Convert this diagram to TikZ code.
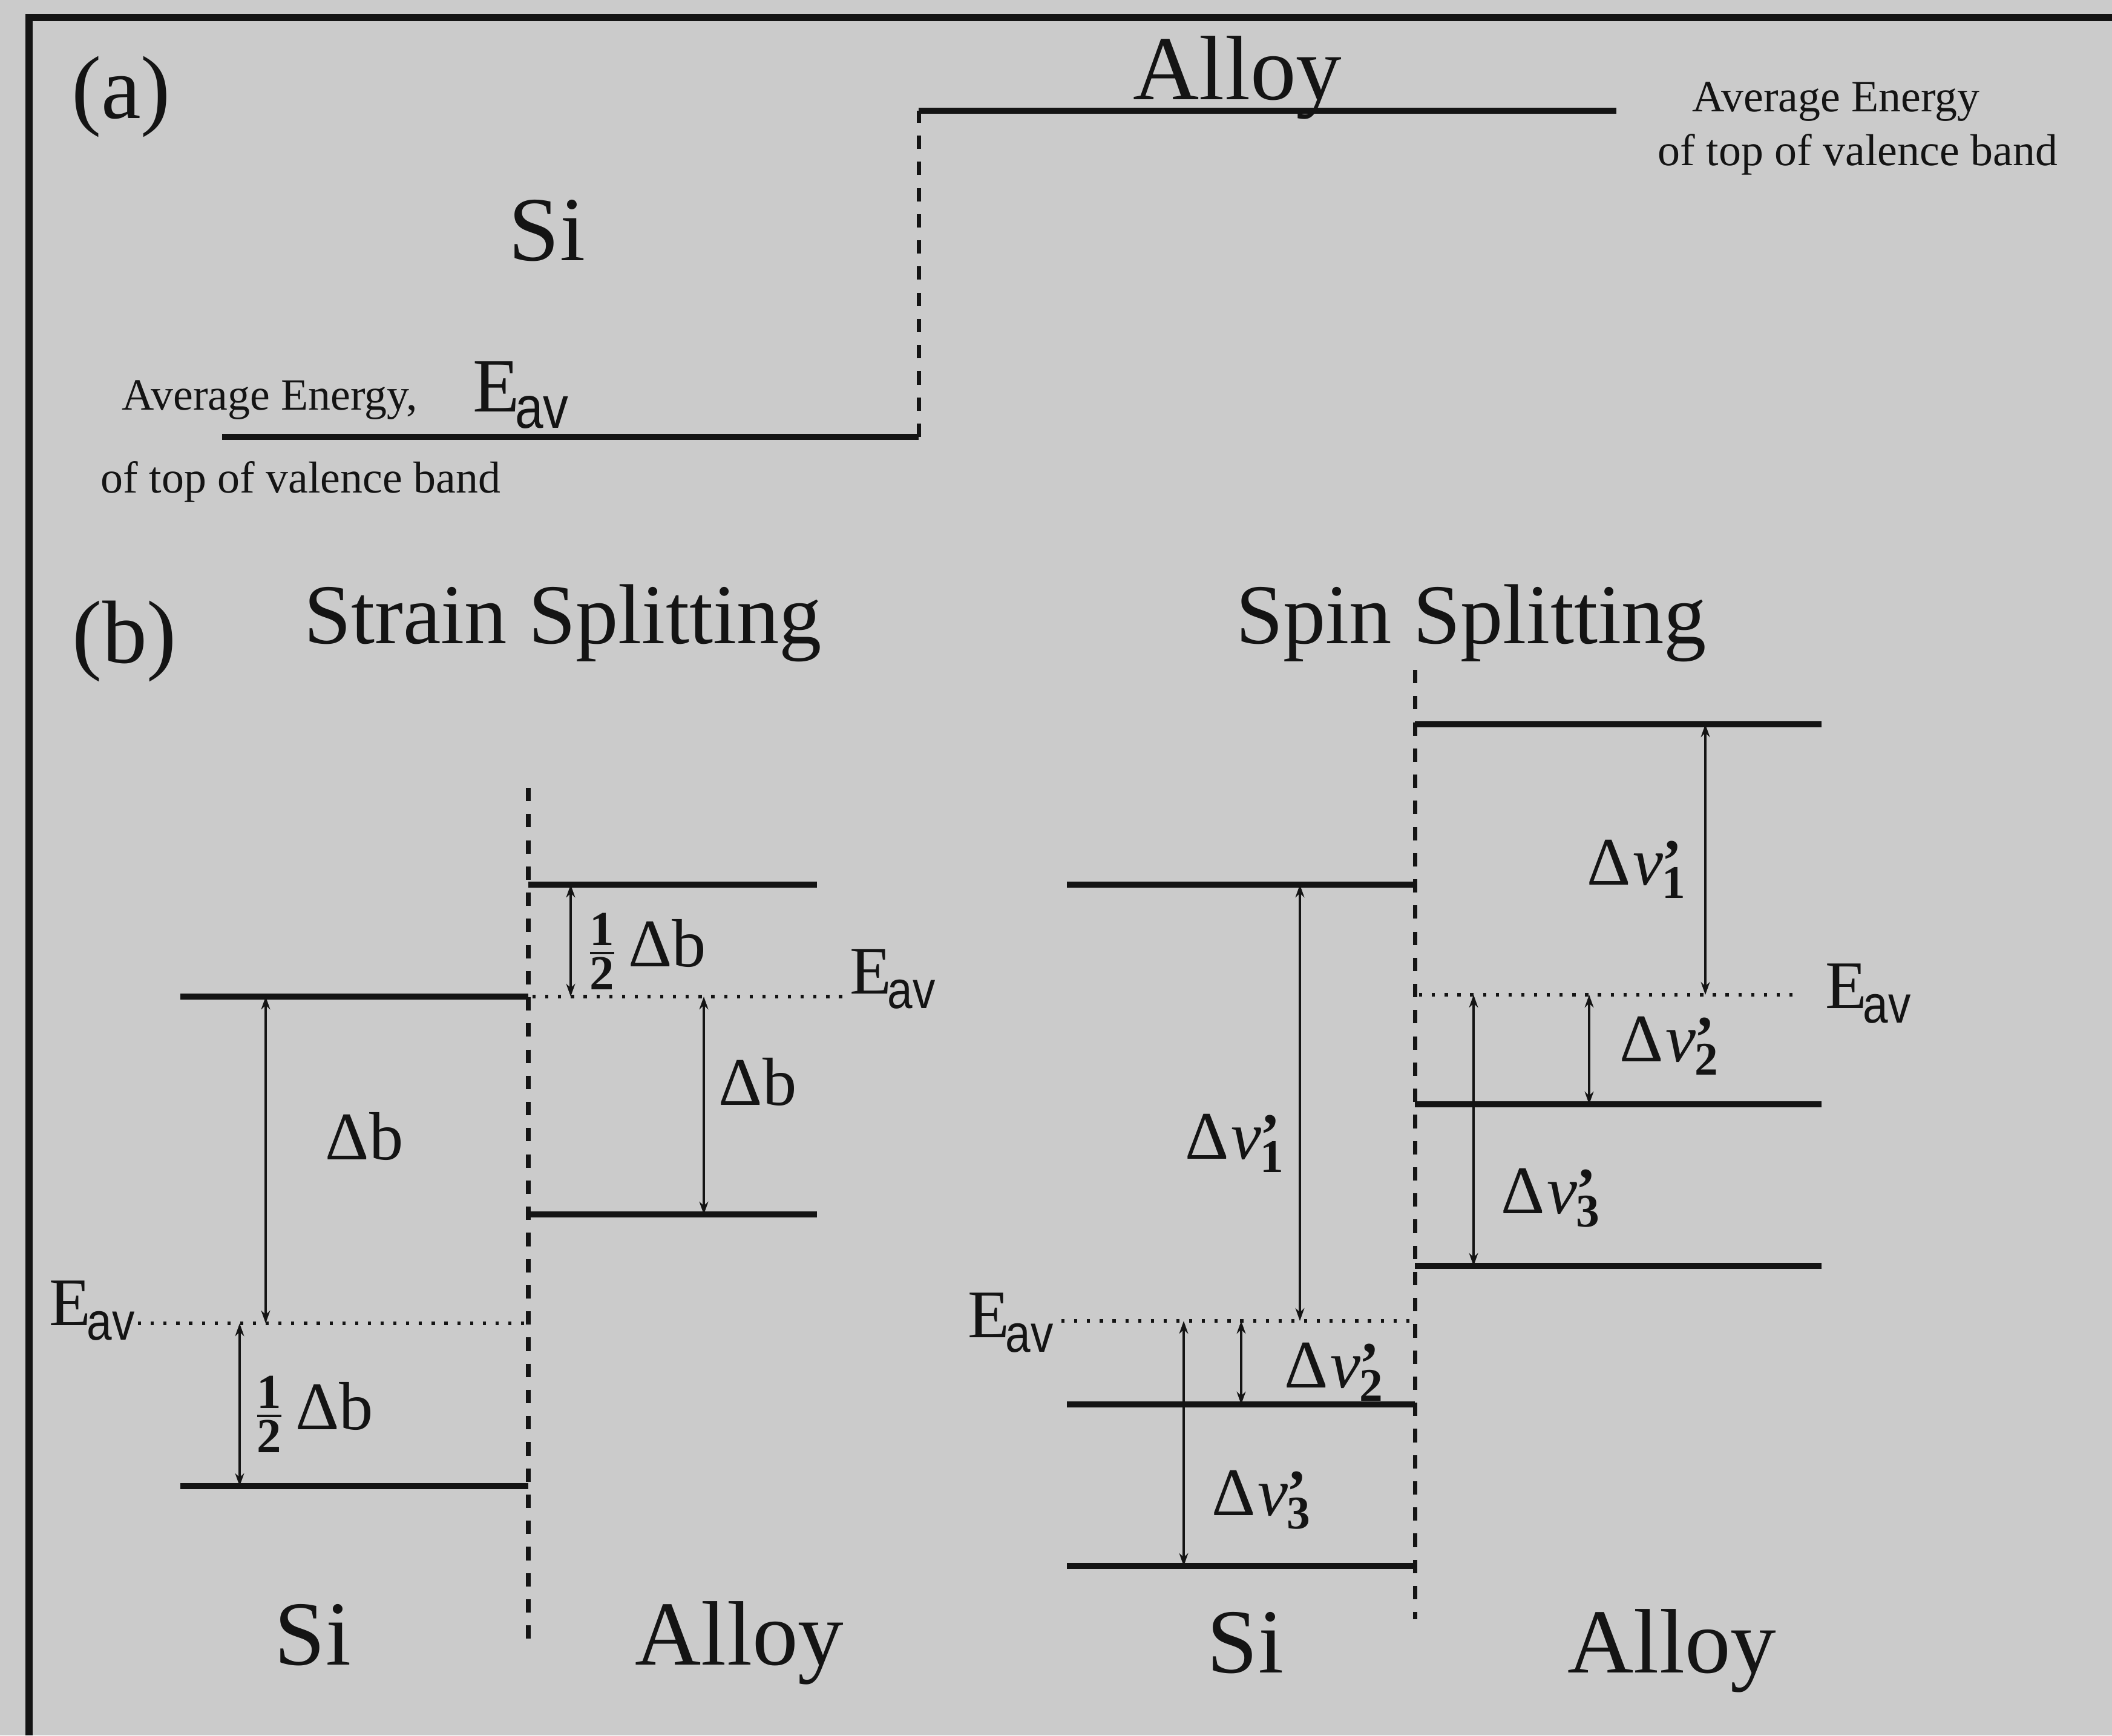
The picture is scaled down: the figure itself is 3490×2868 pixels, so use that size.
\documentclass[tikz,border=0pt]{standalone}
\usepackage{fontspec}
\setmainfont{Liberation Serif}
\setsansfont{Liberation Sans}
\usepackage{amsmath}
\usetikzlibrary{arrows.meta}
\definecolor{bg}{RGB}{203,203,203}
\definecolor{ink}{RGB}{20,20,20}
\newcommand{\fs}[1]{\fontsize{#1}{#1}\selectfont}
\newcommand{\Eav}[1]{E\kern-0.06em\raisebox{-0.22em}{\scalebox{0.85}[1]{\sffamily\fs{#1}av}}}
\newcommand{\dnu}[1]{Δ\kern0.03em\textit{ν}\kern-0.02em\rlap{\raisebox{0.06em}{\fs{28}\bfseries ’}}\raisebox{-0.2em}{\fs{22}\bfseries #1}}
\newcommand{\half}{$\genfrac{}{}{1.3pt}{}{\mbox{\fs{23}\bfseries 1}}{\mbox{\fs{23}\bfseries 2}}$}
\tikzset{
  level/.style={line width=2.6pt, draw=ink},
  vdash/.style={line width=2pt, draw=ink, dash pattern=on 6.3pt off 6pt},
  eavline/.style={line width=1.5pt, draw=ink, dash pattern=on 1.5pt off 4.5pt},
  dbl/.style={line width=1.1pt, draw=ink, {Stealth[length=6pt,width=4.2pt]}-{Stealth[length=6pt,width=4.2pt]}},
  txt/.style={inner sep=0pt, text=ink},
  lbl/.style={txt, anchor=base west, font=\fs{32}},
  big/.style={txt, anchor=base, font=\fs{43}},
  small/.style={txt, anchor=base west, font=\fs{21}},
}
\begin{document}
\begin{tikzpicture}[x=0.01cm, y=-0.01cm]
\fill[bg] (0,0) rectangle (3490,2868);
\useasboundingbox (0,0) rectangle (3490,2868);
% frame
\coordinate (frTR) at (3490,29);
\coordinate (frTL) at (48,29);
\coordinate (frBL) at (48,2868);
\draw[line width=3.2pt, draw=ink] (frTR) -- (frTL) -- (frBL);

% ---------------- (a) ----------------
\node[txt, font=\fs{42}] (labA) at (200,160) {(a)};
\coordinate (aSiL) at (367,722);
\coordinate (aSiR) at (1518,722);
\coordinate (aAlL) at (1518,183);
\coordinate (aAlR) at (2671,183);
\draw[level] (aSiL) -- (aSiR);
\draw[level] (aAlL) -- (aAlR);
\draw[vdash] (aSiR) -- (aAlL);
\node[big] (aSi) at (904,430) {Si};
\node[big] (aAlloy) at (2045,164) {Alloy};
\node[small] (aAvg) at (201,677) {Average Energy,};
\node[lbl, font=\fs{36}] (aEav) at (781,680) {\Eav{28}};
\node[small] (aTop) at (166,814) {of top of valence band};
\node[small] (aAvgR) at (2796,184) {Average Energy};
\node[small] (aTopR) at (2739,273) {of top of valence band};

% ---------------- (b) ----------------
\node[txt, font=\fs{42}] (labB) at (206,1060) {(b)};
\node[txt, anchor=base, font=\fs{40}] (tStrain) at (930,1063) {Strain Splitting};
\node[txt, anchor=base, font=\fs{40}] (tSpin) at (2431,1063) {Spin Splitting};

% Strain splitting
\coordinate (sdT) at (873,1302);
\coordinate (sdB) at (873,2726);
\draw[vdash] (sdT) -- (sdB);
\coordinate (sSiUL) at (298,1647); \coordinate (sSiUR) at (873,1647);
\coordinate (sSiLL) at (298,2456); \coordinate (sSiLR) at (873,2456);
\coordinate (sSiEL) at (228,2187); \coordinate (sSiER) at (867,2187);
\draw[level] (sSiUL) -- (sSiUR);
\draw[level] (sSiLL) -- (sSiLR);
\draw[eavline] (sSiEL) -- (sSiER);
\coordinate (sAlUL) at (873,1462); \coordinate (sAlUR) at (1350,1462);
\coordinate (sAlLL) at (873,2007); \coordinate (sAlLR) at (1350,2007);
\coordinate (sAlEL) at (880,1647); \coordinate (sAlER) at (1398,1647);
\draw[level] (sAlUL) -- (sAlUR);
\draw[level] (sAlLL) -- (sAlLR);
\draw[eavline] (sAlEL) -- (sAlER);
\coordinate (sa1t) at (439,1647); \coordinate (sa1b) at (439,2187);
\coordinate (sa2t) at (396,2187); \coordinate (sa2b) at (396,2456);
\coordinate (sa3t) at (943,1462); \coordinate (sa3b) at (943,1647);
\coordinate (sa4t) at (1163,1647); \coordinate (sa4b) at (1163,2007);
\draw[dbl] (sa1t) -- (sa1b);
\draw[dbl] (sa2t) -- (sa2b);
\draw[dbl] (sa3t) -- (sa3b);
\draw[dbl] (sa4t) -- (sa4b);
\node[lbl] (sDb1) at (537,1916) {Δb};
\node[lbl] (sHalf1) at (420,2362) {\half\,Δb};
\node[lbl] (sHalf2) at (970,1597) {\half\,Δb};
\node[lbl] (sDb2) at (1187,1826) {Δb};
\node[lbl] (sEavL) at (81,2190) {\Eav{25}};
\node[lbl] (sEavR) at (1404,1642) {\Eav{25}};
\node[big] (sSi) at (517,2751) {Si};
\node[big] (sAlloy) at (1222,2751) {Alloy};

% Spin splitting
\coordinate (pdT) at (2338,1107);
\coordinate (pdB) at (2338,2676);
\draw[vdash] (pdT) -- (pdB);
\coordinate (pSiUL) at (1763,1462); \coordinate (pSiUR) at (2338,1462);
\coordinate (pSiEL) at (1754,2183); \coordinate (pSiER) at (2332,2183);
\coordinate (pSiML) at (1763,2321); \coordinate (pSiMR) at (2338,2321);
\coordinate (pSiLL) at (1763,2588); \coordinate (pSiLR) at (2338,2588);
\draw[level] (pSiUL) -- (pSiUR);
\draw[eavline] (pSiEL) -- (pSiER);
\draw[level] (pSiML) -- (pSiMR);
\draw[level] (pSiLL) -- (pSiLR);
\coordinate (pAlUL) at (2338,1197); \coordinate (pAlUR) at (3010,1197);
\coordinate (pAlEL) at (2345,1644); \coordinate (pAlER) at (2973,1644);
\coordinate (pAlML) at (2338,1825); \coordinate (pAlMR) at (3010,1825);
\coordinate (pAlLL) at (2338,2092); \coordinate (pAlLR) at (3010,2092);
\draw[level] (pAlUL) -- (pAlUR);
\draw[eavline] (pAlEL) -- (pAlER);
\draw[level] (pAlML) -- (pAlMR);
\draw[level] (pAlLL) -- (pAlLR);
\coordinate (pa1t) at (2148,1462); \coordinate (pa1b) at (2148,2183);
\coordinate (pa2t) at (2051,2183); \coordinate (pa2b) at (2051,2321);
\coordinate (pa3t) at (1956,2183); \coordinate (pa3b) at (1956,2588);
\coordinate (pa4t) at (2818,1197); \coordinate (pa4b) at (2818,1644);
\coordinate (pa5t) at (2626,1644); \coordinate (pa5b) at (2626,1825);
\coordinate (pa6t) at (2435,1644); \coordinate (pa6b) at (2435,2092);
\draw[dbl] (pa1t) -- (pa1b);
\draw[dbl] (pa2t) -- (pa2b);
\draw[dbl] (pa3t) -- (pa3b);
\draw[dbl] (pa4t) -- (pa4b);
\draw[dbl] (pa5t) -- (pa5b);
\draw[dbl] (pa6t) -- (pa6b);
\node[lbl] (pN1) at (1958,1915) {\dnu{1}};
\node[lbl] (pN2) at (2122,2293) {\dnu{2}};
\node[lbl] (pN3) at (2002,2504) {\dnu{3}};
\node[lbl] (pN4) at (2622,1462) {\dnu{1}};
\node[lbl] (pN5) at (2676,1754) {\dnu{2}};
\node[lbl] (pN6) at (2480,2005) {\dnu{3}};
\node[lbl] (pEavL) at (1599,2210) {\Eav{25}};
\node[lbl] (pEavR) at (3016,1666) {\Eav{25}};
\node[big] (pSi) at (2058,2764) {Si};
\node[big] (pAlloy) at (2763,2764) {Alloy};
\end{tikzpicture}
\end{document}
